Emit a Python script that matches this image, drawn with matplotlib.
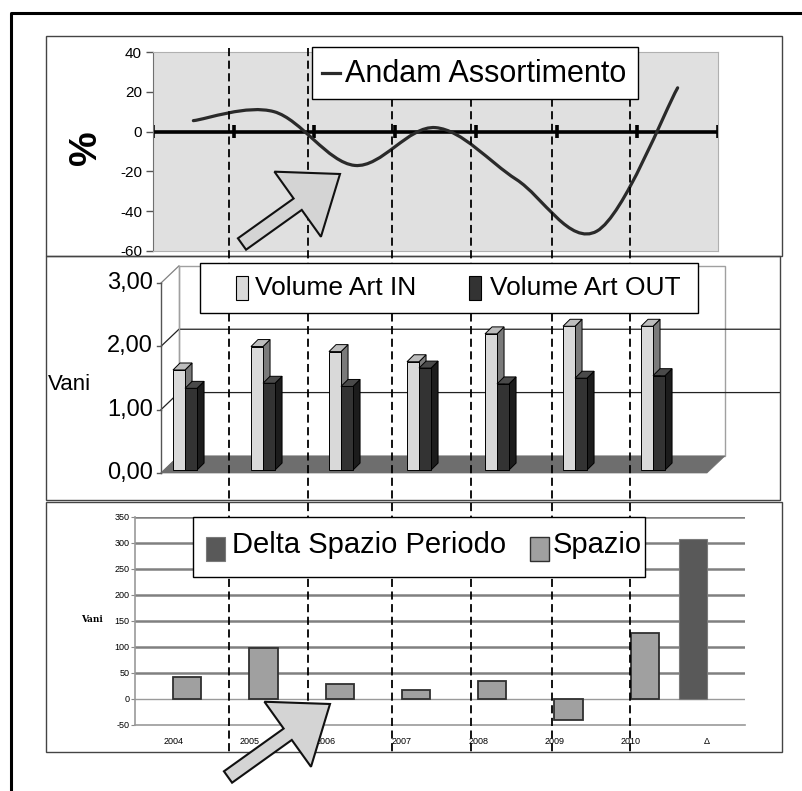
import numpy as np
import matplotlib
matplotlib.use("Agg")
import matplotlib.pyplot as plt
from matplotlib.path import Path
from matplotlib.patches import PathPatch, Rectangle, Polygon, FancyArrow

plt.rcParams['font.family'] = ['Liberation Sans', 'DejaVu Sans']
plt.rcParams['axes.unicode_minus'] = False

# ============================================================
# DATA
# ============================================================

years = ["2004", "2005", "2006", "2007", "2008", "2009", "2010"]

# top: Andam Assortimento (%)
andam = [5.5, 10, -17, 2, -24, -50, 22]

# middle: volumes (Vani)
vol_in = [1.58, 1.95, 1.87, 1.71, 2.15, 2.27, 2.27]
vol_out = [1.29, 1.37, 1.32, 1.61, 1.36, 1.45, 1.49]
vol_ticks = [0, 1, 2, 3]
vol_tick_labels = ["0,00", "1,00", "2,00", "3,00"]

# bottom: space (Vani)
space_cats = years + ["\u0394"]
spazio = [43, 98, 29, 18, 35, -40, 127]
delta_spazio = [307]

# ============================================================
# LAYOUT (pixels)
# ============================================================

W, H = 803, 791
DASH_X = [229, 308, 392, 471, 552, 630]

fig = plt.figure(figsize=(W / 100, H / 100), dpi=100)


def px_axes(x0, y0, x1, y1, **kw):
    return fig.add_axes([x0 / W, 1 - y1 / H, (x1 - x0) / W, (y1 - y0) / H], **kw)


# ============================================================
# TOP PANEL : line chart
# ============================================================

ax1 = px_axes(153, 52, 718, 251)
ax1.set_facecolor("#e0e0e0")
ax1.set_xlim(0, 7)
ax1.set_ylim(-60, 40)
for side in ["top", "right", "bottom"]:
    ax1.spines[side].set_color("#b0b0b0")
ax1.spines["left"].set_color("#707070")
ax1.set_xticks([])
ax1.set_yticks(range(-60, 41, 20))
ax1.tick_params(axis="y", length=5, width=1, color="#555555", labelsize=11, pad=3)

# zero axis with category ticks
ax1.plot([0, 7], [0, 0], color="black", lw=2.6, solid_capstyle="butt", zorder=2)
ax1.vlines(range(8), -3.2, 3.2, color="black", lw=2.6, zorder=2)

# smoothed line (Bezier through the points)
pts = np.column_stack([np.arange(len(andam)) + 0.5, andam])
ext = np.vstack([pts[0], pts, pts[-1]])
verts = [pts[0]]
codes = [Path.MOVETO]
for i in range(len(pts) - 1):
    p0, p1, p2, p3 = ext[i], ext[i + 1], ext[i + 2], ext[i + 3]
    verts += [p1 + (p2 - p0) / 6, p2 - (p3 - p1) / 6, p2]
    codes += [Path.CURVE4] * 3
ax1.add_patch(PathPatch(Path(verts, codes), fill=False, ec="#2a2a2a",
                        lw=2.3, capstyle="round", zorder=3))

# ============================================================
# MIDDLE PANEL : 3D-looking bars
# ============================================================

ax2 = px_axes(161, 283, 707, 473)
ax2.set_xlim(0, 7)
ax2.set_ylim(0, 3)
ax2.axis("off")

DX, DY = 0.23, 0.27      # wall depth
BDX, BDY = 0.09, 0.11    # bar depth
BY = 0.047               # bar set-back
BW = 0.154

# back wall and floor
ax2.add_patch(Rectangle((DX, DY), 7, 3, fc="white", ec="#a0a0a0", lw=1,
                        clip_on=False, zorder=0))
ax2.add_patch(Polygon([(0, 0), (7, 0), (7 + DX, DY), (DX, DY)], closed=True,
                      fc="#6e6e6e", ec="#6e6e6e", lw=0.5, clip_on=False, zorder=1))

for k in vol_ticks:
    if k in (1, 2):
        ax2.plot([0, DX, 7.94], [k, k + DY, k + DY], color="#222222", lw=0.9,
                 clip_on=False, zorder=0.5)
    else:
        ax2.plot([0, DX], [k, k + DY], color="#808080", lw=0.9, clip_on=False, zorder=0.5)
    ax2.plot([-0.05, 0], [k, k], color="#555555", lw=1, clip_on=False)
    ax2.text(-0.1, k, vol_tick_labels[vol_ticks.index(k)], ha="right", va="center",
             fontsize=17)
ax2.plot([0, 0], [0, 3], color="#555555", lw=1, clip_on=False, zorder=0.6)
ax2.plot([DX, DX], [DY, 3 + DY], color="#a0a0a0", lw=1, clip_on=False, zorder=0.6)


def bar3d(x0, h, front, top, side, z):
    ax2.add_patch(Polygon([(x0 + BW, BY), (x0 + BW + BDX, BY + BDY),
                           (x0 + BW + BDX, BY + h + BDY), (x0 + BW, BY + h)],
                          closed=True, fc=side, ec="black", lw=0.7, zorder=z, clip_on=False))
    ax2.add_patch(Rectangle((x0, BY), BW, h, fc=front, ec="black", lw=0.7,
                            zorder=z, clip_on=False))
    ax2.add_patch(Polygon([(x0, BY + h), (x0 + BW, BY + h),
                           (x0 + BW + BDX, BY + h + BDY), (x0 + BDX, BY + h + BDY)],
                          closed=True, fc=top, ec="black", lw=0.7, zorder=z, clip_on=False))


for i in range(len(years)):
    bar3d(i + 0.154, vol_in[i], "#d9d9d9", "#bdbdbd", "#7a7a7a", 2)
    bar3d(i + 0.154 + BW, vol_out[i], "#333333", "#4a4a4a", "#1c1c1c", 3)

# ============================================================
# BOTTOM PANEL : bars
# ============================================================

ax3 = px_axes(135, 517, 745, 725)
ax3.set_xlim(0, len(space_cats))
ax3.set_ylim(-50, 350)
for v in range(50, 351, 50):
    ax3.axhline(v, color="#808080", lw=1.8, zorder=0)
ax3.axhline(0, color="#9a9a9a", lw=1, zorder=0)
for side in ["top", "right"]:
    ax3.spines[side].set_visible(False)
for side in ["left", "bottom"]:
    ax3.spines[side].set_color("#999999")
    ax3.spines[side].set_linewidth(1.2)
ax3.set_yticks(range(-50, 351, 50))
ax3.set_xticks(np.arange(len(space_cats)) + 0.5)
ax3.set_xticklabels(space_cats)
ax3.tick_params(axis="y", length=3, color="#888888", labelsize=6.5, pad=1)
ax3.tick_params(axis="x", length=0, labelsize=6.5, pad=9)

ax3.bar(np.arange(len(spazio)) + 0.5 + 0.185, spazio, width=0.37,
        color="#a0a0a0", edgecolor="#303030", lw=1.3, zorder=2)
ax3.bar(np.arange(len(spazio), len(space_cats)) + 0.5 - 0.185, delta_spazio,
        width=0.37, color="#595959", edgecolor="#7a7a7a", lw=0.8, zorder=2)

# ============================================================
# OVERLAY : frames, dashed lines, legends, arrows
# ============================================================

ov = fig.add_axes([0, 0, 1, 1], zorder=10)
ov.set_xlim(0, W)
ov.set_ylim(H, 0)
ov.axis("off")
ov.patch.set_visible(False)

# outer frame and panel frames
ov.plot([11, 11, W], [H, 13, 13], color="black", lw=2.2)
for (x0, y0, x1, y1) in [(46, 36, 782, 256), (46, 256, 780, 500), (46, 502, 782, 752)]:
    ov.add_patch(Rectangle((x0, y0), x1 - x0, y1 - y0, fill=False, ec="#444444", lw=1))

for x in DASH_X:
    ov.plot([x, x], [48, 752], color="black", lw=1.3, dashes=(4.5, 2.5), zorder=2)

# top legend
ov.add_patch(Rectangle((312, 47), 326, 52, fc="white", ec="black", lw=1, zorder=3))
ov.plot([322, 340], [73, 73], color="#2a2a2a", lw=2.3, zorder=4)
ov.text(345, 82, "Andam Assortimento", fontsize=22, va="baseline", zorder=4)
ov.text(86, 148, "%", fontsize=28, fontweight="bold", rotation=90,
        ha="center", va="center")

# middle legend
ov.add_patch(Rectangle((200, 263), 498, 50, fc="white", ec="black", lw=1, zorder=3))
ov.add_patch(Rectangle((236, 276), 12, 24, fc="#d9d9d9", ec="black", lw=0.8, zorder=4))
ov.text(255, 295, "Volume Art IN", fontsize=19, va="baseline", zorder=4)
ov.add_patch(Rectangle((469, 276), 12, 24, fc="#333333", ec="black", lw=0.8, zorder=4))
ov.text(490, 295, "Volume Art OUT", fontsize=19, va="baseline", zorder=4)
ov.text(48, 384, "Vani", fontsize=16, va="center")

# bottom legend
ov.add_patch(Rectangle((193, 517), 452, 60, fc="white", ec="black", lw=1, zorder=3))
ov.add_patch(Rectangle((206, 537), 19, 24, fc="#595959", ec="#7a7a7a", lw=0.8, zorder=4))
ov.text(232, 553, "Delta Spazio Periodo", fontsize=21, va="baseline", zorder=4)
ov.add_patch(Rectangle((530, 537), 19, 24, fc="#a0a0a0", ec="#303030", lw=1, zorder=4))
ov.text(553, 553, "Spazio", fontsize=21, va="baseline", zorder=4)
ov.text(92, 620, "Vani", fontsize=6.5, fontweight="bold", family="DejaVu Serif",
        ha="center", va="center")

# block arrows
for (x0, y0, x1, y1) in [(242, 244, 340, 174), (228, 777, 330, 704)]:
    ov.add_patch(FancyArrow(x0, y0, x1 - x0, y1 - y0, width=14, head_width=80,
                            head_length=52, length_includes_head=True,
                            fc="#d4d4d4", ec="#111111", lw=1.5, zorder=5))

fig.savefig("out.png", dpi=100)
